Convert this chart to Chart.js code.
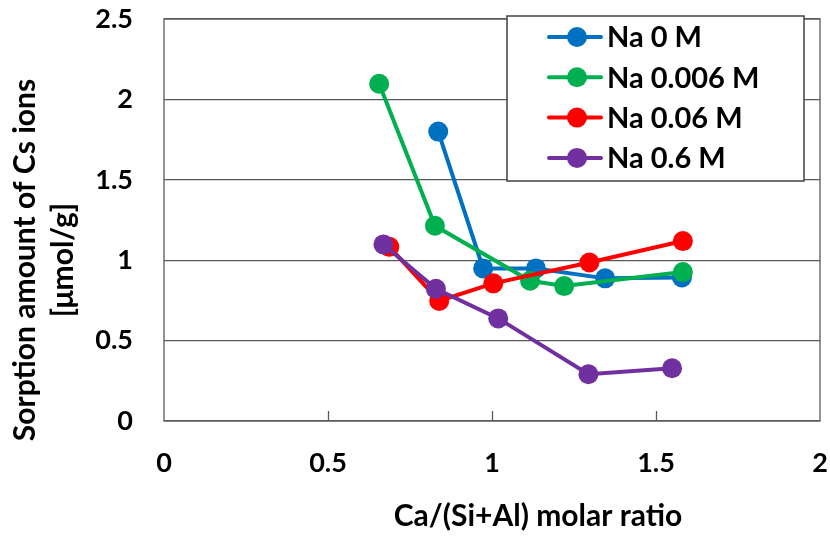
<!DOCTYPE html>
<html><head><meta charset="utf-8">
<script src="https://cdn.jsdelivr.net/npm/chart.js@4/dist/chart.umd.min.js"></script>
<style>html,body{margin:0;padding:0;background:#fff}#wrap{width:830px;height:536px}</style>
</head><body><div id="wrap"><canvas id="c" width="830" height="536"></canvas></div>
<script>
// ---- data ----
const seriesLabels = ['Na 0 M', 'Na 0.006 M', 'Na 0.06 M', 'Na 0.6 M'];
const seriesColors = ['#0070C0', '#00B050', '#FF0000', '#7030A0'];

const na0X    = [0.836, 0.973, 1.134, 1.345, 1.579];
const na0Y    = [1.80, 0.949, 0.949, 0.887, 0.893];
const na0006X = [0.656, 0.826, 1.116, 1.220, 1.582];
const na0006Y = [2.097, 1.214, 0.872, 0.839, 0.926];
const na006X  = [0.687, 0.839, 1.004, 1.297, 1.582];
const na006Y  = [1.083, 0.747, 0.856, 0.986, 1.119];
const na06X   = [0.669, 0.829, 1.019, 1.294, 1.549];
const na06Y   = [1.098, 0.822, 0.638, 0.291, 0.328];

const xTicks = [0, 0.5, 1, 1.5, 2];
const yTicks = [0, 0.5, 1, 1.5, 2, 2.5];
const xTitle = 'Ca/(Si+Al) molar ratio';
const yTitleLines = ['Sorption amount of Cs ions', '[μmol/g]'];

const FONT = 'Lato, "Open Sans", sans-serif';
const GRID = '#595959';

function pts(xs, ys) { return xs.map((x, i) => ({ x: x, y: ys[i] })); }
const seriesData = [pts(na0X, na0Y), pts(na0006X, na0006Y), pts(na006X, na006Y), pts(na06X, na06Y)];

const datasets = seriesLabels.map((lab, i) => ({
  label: lab,
  data: seriesData[i],
  showLine: true,
  borderColor: seriesColors[i],
  backgroundColor: seriesColors[i],
  pointBackgroundColor: seriesColors[i],
  pointBorderColor: seriesColors[i],
  pointRadius: 10,
  pointBorderWidth: 0,
  borderWidth: 4,
  tension: 0,
  order: seriesLabels.length - i
}));

const framePlugin = {
  id: 'frame',
  beforeDatasetsDraw(chart) {
    const { ctx, chartArea: a } = chart;
    const xs = chart.scales.x;
    ctx.save();
    ctx.strokeStyle = GRID;
    ctx.lineWidth = 1.3;
    ctx.strokeRect(a.left, a.top, a.right - a.left, a.bottom - a.top);
    xs.ticks.forEach(t => {
      if (t.value <= xs.min || t.value >= xs.max) return;
      const px = Math.round(xs.getPixelForValue(t.value)) + 0.5;
      ctx.beginPath();
      ctx.moveTo(px, a.bottom);
      ctx.lineTo(px, a.bottom - 10);
      ctx.stroke();
    });
    ctx.restore();
  },
  afterDraw(chart) {
    const { ctx } = chart;
    ctx.save();
    ctx.fillStyle = '#000';
    ctx.font = 'bold 30px ' + FONT;
    ctx.textAlign = 'center';
    ctx.textBaseline = 'middle';
    // x axis title
    ctx.fillText(xTitle, 538, 516);
    // y axis title (two centred lines, rotated)
    const cy = 260;
    const lineX = [25, 63];
    yTitleLines.forEach((t, i) => {
      ctx.save();
      ctx.translate(lineX[i], cy);
      ctx.rotate(-Math.PI / 2);
      ctx.fillText(t, 0, 0);
      ctx.restore();
    });
    // legend box
    const bx = 507, by = 16, bw = 297, bh = 165;
    ctx.fillStyle = '#fff';
    ctx.fillRect(bx, by, bw, bh);
    ctx.strokeStyle = '#404040';
    ctx.lineWidth = 1.5;
    ctx.strokeRect(bx, by, bw, bh);
    chart.data.datasets.forEach((ds, i) => {
      const y = by + 21 + i * 40.3;
      ctx.strokeStyle = ds.borderColor;
      ctx.lineWidth = 4;
      ctx.lineCap = 'round';
      ctx.beginPath();
      ctx.moveTo(549, y);
      ctx.lineTo(601, y);
      ctx.stroke();
      ctx.fillStyle = ds.borderColor;
      ctx.beginPath();
      ctx.arc(577, y, 10, 0, Math.PI * 2);
      ctx.fill();
      ctx.fillStyle = '#000';
      ctx.font = 'bold 29px ' + FONT;
      ctx.textAlign = 'left';
      ctx.textBaseline = 'middle';
      ctx.fillText(ds.label, 607, y + 1);
    });
    ctx.restore();
  }
};

new Chart(document.getElementById('c'), {
  type: 'scatter',
  data: { datasets: datasets },
  options: {
    responsive: false,
    animation: false,
    devicePixelRatio: 1,
    layout: { padding: { top: 19, right: 10, left: 0, bottom: 0 } },
    plugins: { legend: { display: false }, tooltip: { enabled: false } },
    scales: {
      x: {
        type: 'linear',
        min: xTicks[0], max: xTicks[xTicks.length - 1],
        afterBuildTicks: s => { s.ticks = xTicks.map(v => ({ value: v })); },
        afterFit: s => { s.height = 115; s.paddingLeft = 0; s.paddingRight = 0; },
        grid: { display: false, drawTicks: false },
        border: { display: false },
        ticks: { color: '#000', padding: 26, callback: v => String(v), font: { family: FONT, size: 27, weight: 'bold' } },
        title: { display: false, text: xTitle }
      },
      y: {
        type: 'linear',
        min: yTicks[0], max: yTicks[yTicks.length - 1],
        afterBuildTicks: s => { s.ticks = yTicks.map(v => ({ value: v })); },
        afterFit: s => { s.width = 164; s.paddingTop = 0; s.paddingBottom = 0; },
        grid: { color: GRID, lineWidth: 1.3, drawTicks: false },
        border: { display: false },
        ticks: { color: '#000', padding: 31, callback: v => String(v), font: { family: FONT, size: 27, weight: 'bold' } },
        title: { display: false, text: yTitleLines }
      }
    }
  },
  plugins: [framePlugin]
});
</script>
</body></html>
